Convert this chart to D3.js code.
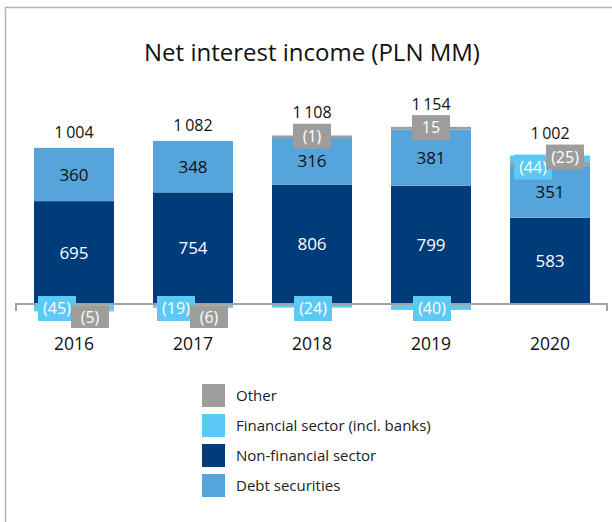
<!DOCTYPE html>
<html>
<head>
<meta charset="utf-8">
<script src="https://cdn.jsdelivr.net/npm/d3@7"></script>
<style>
  html, body { margin: 0; padding: 0; background: #fff; }
  svg { display: block; font-family: "Open Sans", "DejaVu Sans", sans-serif; }
</style>
</head>
<body>
<svg id="chart" width="612" height="522"></svg>
<script>
// ---- data ----
const years = ["2016", "2017", "2018", "2019", "2020"];
const nonFinancial = [695, 754, 806, 799, 583];
const debtSecurities = [360, 348, 316, 381, 351];
const financialSector = [-45, -19, -24, -40, 44];
const other = [-5, -6, -1, 15, 25];
const totals = ["1\u2009004", "1\u2009082", "1\u2009108", "1\u2009154", "1\u2009002"];
const financialLabels = ["(45)", "(19)", "(24)", "(40)", "(44)"];
const otherLabels = ["(5)", "(6)", "(1)", "15", "(25)"];
const legendNames = ["Other", "Financial sector (incl. banks)", "Non-financial sector", "Debt securities"];

const colors = {
  other: "#9d9d9c",
  fin: "#5cc8f4",
  nonfin: "#003b7a",
  debt: "#55a5dc"
};

const svg = d3.select("#chart");

// frame
svg.append("path").attr("d", "M5.5,522V7.5H612")
  .attr("fill", "none").attr("stroke", "#b4b4b4").attr("stroke-width", 1.5);

// title
svg.append("text").attr("x", 312).attr("y", 61).attr("text-anchor", "middle")
  .attr("font-size", 24).attr("fill", "#111").text("Net interest income (PLN MM)");

// scales
const x = d3.scaleBand().domain(years).range([34, 590]).paddingInner(0.328).paddingOuter(0);
const y = d3.scaleLinear().domain([0, 1000]).range([304, 156]);
const bw = x.bandwidth();
const h = v => Math.abs(y(0) - y(v));

// build segments
const segs = [];
const boxes = [];
years.forEach((yr, i) => {
  let pos = 0, neg = 0;
  segs.push({yr, y0: 0, y1: nonFinancial[i], c: colors.nonfin, label: String(nonFinancial[i]), lc: "#fff"});
  pos = nonFinancial[i];
  segs.push({yr, y0: pos, y1: pos + debtSecurities[i], c: colors.debt, label: String(debtSecurities[i]), lc: "#111"});
  pos += debtSecurities[i];
  let topY;
  const oTop = other[i] > -2;   // tiny or positive "other" sits at the top of the stack
  if (financialSector[i] < 0) {
    segs.push({yr, y0: 0, y1: financialSector[i], c: colors.fin});
    neg = financialSector[i];
  }
  if (oTop) {
    const v = Math.abs(other[i]);
    const px = Math.max(h(v), 2.5);
    segs.push({yr, py0: y(pos), py1: y(pos) - px, c: colors.other});
    const oy = y(pos) - px;
    pos += v;
    if (financialSector[i] > 0) {
      const fpx = h(financialSector[i]);
      segs.push({yr, py0: oy, py1: oy - fpx, c: colors.fin});
      boxes.push({yr, dx: -36, cy: y(pos) + 5, c: colors.fin, t: financialLabels[i]});
      boxes.push({yr, dx: -4, cy: y(pos) - 5, c: colors.other, t: otherLabels[i]});
      topY = y(pos) - 5 - 12;
    } else {
      boxes.push({yr, dx: -19, cy: oy + px / 2 - 0.5, c: colors.other, t: otherLabels[i]});
      topY = oy + px / 2 - 12.5;
    }
  } else {
    segs.push({yr, y0: neg, y1: neg + other[i], c: colors.other});
    topY = y(pos);
  }
  if (financialSector[i] < 0) {
    boxes.push({yr, dx: oTop ? -18 : -36, cy: y(0) + 4.5, c: colors.fin, t: financialLabels[i]});
  }
  if (!oTop) {
    boxes.push({yr, dx: -3, cy: y(0) + 13, c: colors.other, t: otherLabels[i], hh: 22});
  }
  boxes.push({yr, total: totals[i], ty: topY - (oTop ? 6 : 10)});
});

// bars
svg.append("g").selectAll("rect").data(segs).join("rect")
  .attr("x", d => x(d.yr))
  .attr("width", bw)
  .attr("y", d => d.py0 !== undefined ? Math.min(d.py0, d.py1) : Math.min(y(d.y0), y(d.y1)))
  .attr("height", d => d.py0 !== undefined ? Math.abs(d.py0 - d.py1) : Math.abs(y(d.y0) - y(d.y1)))
  .attr("fill", d => d.c);

// axis base line
svg.append("path").attr("d", `M16,311V${y(0)}H607V311`)
  .attr("fill", "none").attr("stroke", "#a3a3a3").attr("stroke-width", 2);

// year labels via d3 axis
const ax = svg.append("g").attr("transform", "translate(0,338)")
  .call(d3.axisBottom(x).tickSize(0).tickPadding(0));
ax.select(".domain").remove();
ax.selectAll("text").attr("font-size", 17.5).attr("fill", "#111")
  .attr("font-family", "'Open Sans', sans-serif").attr("dy", "0.71em");

// segment labels
svg.append("g").selectAll("text").data(segs.filter(d => d.label)).join("text")
  .attr("x", d => x(d.yr) + bw / 2)
  .attr("y", d => (y(d.y0) + y(d.y1)) / 2)
  .attr("dy", "0.36em")
  .attr("text-anchor", "middle")
  .attr("font-size", 17)
  .attr("fill", d => d.lc)
  .text(d => d.label);

// boxed labels
const bx = boxes.filter(d => d.t);
const bg = svg.append("g").selectAll("g").data(bx).join("g")
  .attr("transform", d => `translate(${x(d.yr) + bw / 2 + d.dx},${d.cy})`);
bg.append("rect").attr("x", 0).attr("y", d => -(d.hh || 25) / 2).attr("width", 38).attr("height", d => d.hh || 25)
  .attr("fill", d => d.c);
bg.append("text").attr("x", 19).attr("y", 0).attr("dy", "0.36em").attr("text-anchor", "middle")
  .attr("font-size", 16).attr("fill", "#fff").text(d => d.t);

// totals
svg.append("g").selectAll("text").data(boxes.filter(d => d.total)).join("text")
  .attr("x", d => x(d.yr) + bw / 2)
  .attr("y", d => d.ty)
  .attr("text-anchor", "middle")
  .attr("font-size", 16)
  .attr("fill", "#111")
  .text(d => d.total);

// legend
const leg = svg.append("g").selectAll("g").data(legendNames).join("g")
  .attr("transform", (d, i) => `translate(202,${384 + i * 30})`);
leg.append("rect").attr("width", 23).attr("height", 23)
  .attr("fill", (d, i) => [colors.other, colors.fin, colors.nonfin, colors.debt][i]);
leg.append("text").attr("x", 34).attr("y", 11.5).attr("dy", "0.36em")
  .attr("font-size", 15).attr("fill", "#222").text(d => d);
</script>
</body>
</html>
